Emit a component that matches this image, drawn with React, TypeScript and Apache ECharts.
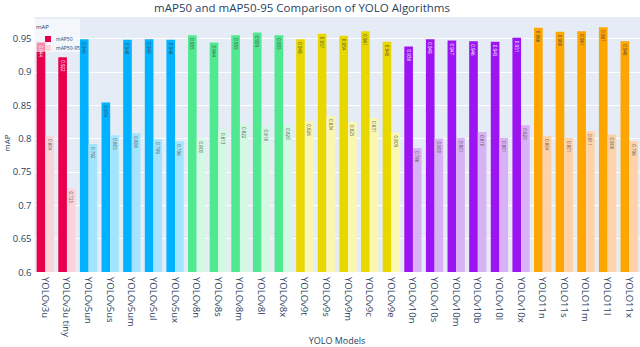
import React, { useEffect, useRef } from "react";
import * as echarts from "echarts";

const categories = [
  "YOLOv3u", "YOLOv3u tiny", "YOLOv5un", "YOLOv5us", "YOLOv5um", "YOLOv5ul", "YOLOv5ux",
  "YOLOv8n", "YOLOv8s", "YOLOv8m", "YOLOv8l", "YOLOv8x",
  "YOLOv9t", "YOLOv9s", "YOLOv9m", "YOLOv9c", "YOLOv9e",
  "YOLOv10n", "YOLOv10s", "YOLOv10m", "YOLOv10b", "YOLOv10l", "YOLOv10x",
  "YOLO11n", "YOLO11s", "YOLO11m", "YOLO11l", "YOLO11x",
];
const families = [
  "v3", "v3", "v5", "v5", "v5", "v5", "v5",
  "v8", "v8", "v8", "v8", "v8",
  "v9", "v9", "v9", "v9", "v9",
  "v10", "v10", "v10", "v10", "v10", "v10",
  "11", "11", "11", "11", "11",
];
const map50 = [
  0.944, 0.922, 0.949, 0.854, 0.948, 0.949, 0.948,
  0.955, 0.944, 0.955, 0.959, 0.955,
  0.949, 0.957, 0.954, 0.961, 0.945,
  0.938, 0.949, 0.947, 0.946, 0.945, 0.951,
  0.966, 0.960, 0.961, 0.967, 0.946,
];
const map5095 = [
  0.804, 0.725, 0.792, 0.805, 0.808, 0.799, 0.796,
  0.800, 0.813, 0.822, 0.818, 0.820,
  0.826, 0.834, 0.825, 0.831, 0.809,
  0.786, 0.800, 0.801, 0.810, 0.801, 0.820,
  0.804, 0.801, 0.811, 0.806, 0.796,
];
const yTicks = { min: 0.6, max: 0.983, step: 0.05 };

const darkColors: Record<string, string> = {
  v3: "#e8004c", v5: "#00b2ff", v8: "#50e890", v9: "#e8d800", v10: "#9d14f2", "11": "#ffa500",
};
const lightColors: Record<string, string> = {
  v3: "#f9d4da", v5: "#a3e5ff", v8: "#d3f9e4", v9: "#faf7b3", v10: "#d9b1f5", "11": "#ffd2a8",
};
const lightTextOnDark: Record<string, boolean> = { v3: true, v10: true };

const FONT = "'Open Sans', 'DejaVu Sans', sans-serif";
const TXT = "#2a3f5f";

export default function App() {
  const ref = useRef<HTMLDivElement>(null);
  useEffect(() => {
    if (!ref.current) return;
    const chart = echarts.init(ref.current, null, { renderer: "svg" });
    const labelBase = {
      show: true,
      position: "insideTop" as const,
      rotate: -90,
      align: "left" as const,
      verticalAlign: "middle" as const,
      distance: 3,
      fontSize: 4.5,
      fontFamily: FONT,
      formatter: (p: any) => Number(p.value).toFixed(3),
    };
    chart.setOption({
      animation: false,
      backgroundColor: "#ffffff",
      textStyle: { fontFamily: FONT },
      grid: { left: 34.5, top: 16.5, right: -1, bottom: 75, containLabel: false, show: true, backgroundColor: "#e5ecf6", borderWidth: 0 },
      legend: {
        orient: "vertical",
        left: 40,
        top: 31,
        itemWidth: 6,
        itemHeight: 6,
        itemGap: 3,
        icon: "rect",
        z: 10,
        textStyle: { fontSize: 5, color: TXT, fontFamily: FONT },
        data: ["mAP50", "mAP50-95"],
      },
      graphic: [
        { type: "rect", shape: { x: 33, y: 19, width: 47, height: 33 }, style: { fill: "rgba(255,255,255,0.55)" }, z: 3 },
        { type: "text", x: 36, y: 27, style: { text: "mAP", fontSize: 6, fill: TXT, fontFamily: FONT, verticalAlign: "middle" }, z: 6 },
        { type: "text", x: 302, y: 7, style: { text: "mAP50 and mAP50-95 Comparison of YOLO Algorithms", fontSize: 11.5, fill: TXT, fontFamily: FONT, align: "center", verticalAlign: "middle" } },
        { type: "text", x: 337, y: 340, style: { text: "YOLO Models", fontSize: 9, fill: TXT, fontFamily: FONT, align: "center", verticalAlign: "middle" } },
        { type: "text", x: 6, y: 143, rotation: Math.PI / 2, style: { text: "mAP", fontSize: 8, fill: TXT, fontFamily: FONT, align: "center", verticalAlign: "middle" } },
      ],
      xAxis: {
        type: "category",
        data: categories,
        axisLine: { show: false },
        axisTick: { show: false },
        axisLabel: { rotate: -90, interval: 0, fontSize: 9.5, color: TXT, fontFamily: FONT, margin: 5 },
      },
      yAxis: {
        type: "value",
        min: yTicks.min,
        max: yTicks.max,
        interval: yTicks.step,
        axisLine: { show: false },
        axisTick: { show: false },
        splitLine: { lineStyle: { color: "#ffffff", width: 1 } },
        axisLabel: {
          showMaxLabel: false,
          fontSize: 9.5,
          color: TXT,
          fontFamily: FONT,
          margin: 3,
          formatter: (v: number) => String(+v.toFixed(2)),
        },
      },
      series: [
        {
          name: "mAP50",
          type: "bar",
          barGap: "0%",
          barCategoryGap: "20%",
          itemStyle: { color: darkColors.v3 },
          data: map50.map((v, i) => ({
            value: v,
            itemStyle: { color: darkColors[families[i]] },
            label: { ...labelBase, color: lightTextOnDark[families[i]] ? "#ffffff" : "#444444" },
          })),
          label: labelBase,
        },
        {
          name: "mAP50-95",
          type: "bar",
          barGap: "0%",
          barCategoryGap: "20%",
          itemStyle: { color: lightColors.v3 },
          data: map5095.map((v, i) => ({
            value: v,
            itemStyle: { color: lightColors[families[i]] },
            label: { ...labelBase, color: "#555555" },
          })),
          label: labelBase,
        },
      ],
    });
    return () => chart.dispose();
  }, []);
  return <div ref={ref} style={{ position: "fixed", left: 0, top: 0, width: 640, height: 347 }} />;
}
